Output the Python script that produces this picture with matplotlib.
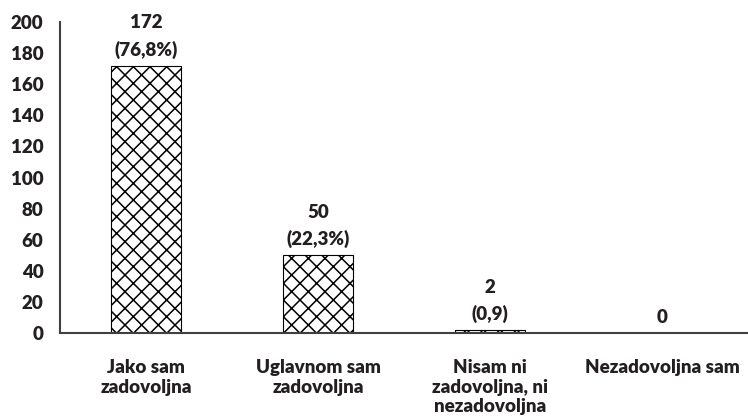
import matplotlib
matplotlib.use("Agg")
import matplotlib.pyplot as plt

categories = ["Jako sam\nzadovoljna", "Uglavnom sam\nzadovoljna",
              "Nisam ni\nzadovoljna, ni\nnezadovoljna", "Nezadovoljna sam"]
values = [172, 50, 2, 0]
labels = ["172\n(76,8%)", "50\n(22,3%)", "2\n(0,9)", "0"]
yticks = [0, 20, 40, 60, 80, 100, 120, 140, 160, 180, 200]

plt.rcParams['font.family'] = ['Lato', 'DejaVu Sans']
plt.rcParams['hatch.linewidth'] = 1.1
txt = '#231f20'
fs = 13.5

fig = plt.figure(figsize=(7.48, 4.19), dpi=100)
ax = fig.add_axes([60/748, 86/419, 688/748, 311/419])
x = list(range(len(categories)))
ax.bar(x, values, width=0.41, color='white', edgecolor='black', linewidth=0.8, hatch='xx')
ax.set_xlim(-0.5, 3.5)
ax.set_ylim(0, 200)
ax.set_yticks(yticks)
ax.set_yticklabels([str(t) for t in yticks], fontsize=fs, fontweight='heavy', color=txt)
ax.set_xticks(x)
ax.set_xticklabels(categories, fontsize=fs, fontweight='heavy', color=txt, linespacing=1.18)
ax.tick_params(axis='both', length=0)
ax.tick_params(axis='x', pad=19)
ax.tick_params(axis='y', pad=12)
for s in ['top', 'right']:
    ax.spines[s].set_visible(False)
ax.spines['left'].set_color('#404040')
ax.spines['left'].set_linewidth(1.5)
ax.spines['bottom'].set_color('#404040')
ax.spines['bottom'].set_linewidth(1.5)
for xi, v, lab in zip(x, values, labels):
    ax.annotate(lab, (xi, v), xytext=(0, 5), textcoords='offset points',
                ha='center', va='bottom', fontsize=fs, fontweight='heavy',
                color=txt, linespacing=1.6)
fig.savefig('out.png', dpi=100)
